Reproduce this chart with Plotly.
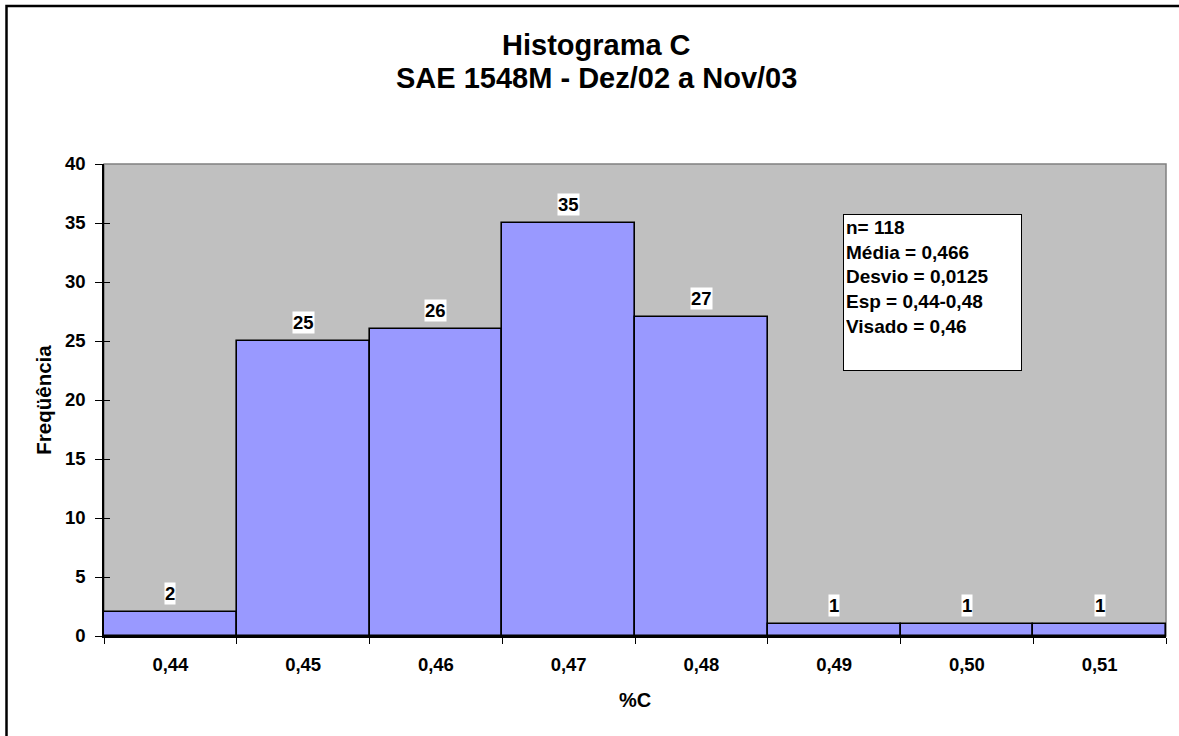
import plotly.graph_objects as go

# Carbon content classes (%C) and their frequencies
classes = ["0,44", "0,45", "0,46", "0,47", "0,48", "0,49", "0,50", "0,51"]
frequencies = [2, 25, 26, 35, 27, 1, 1, 1]
y_ticks = [0, 5, 10, 15, 20, 25, 30, 35, 40]
stats_lines = ["n= 118", "Média = 0,466", "Desvio = 0,0125", "Esp = 0,44-0,48", "Visado = 0,46"]

FONT = "Arial, Liberation Sans, sans-serif"
W, H = 1179, 736
L, R, T, B = 104, 13, 164, 100
PW, PH = W - L - R, H - T - B

fig = go.Figure()
fig.add_trace(go.Bar(
    x=classes, y=frequencies,
    marker=dict(color="#9999FF", line=dict(color="black", width=1.6)),
    hoverinfo="x+y",
))

# value labels above each bar with white boxes
for c, f in zip(classes, frequencies):
    fig.add_annotation(
        x=c, y=f, xref="x", yref="y", text=f"<b>{f}</b>",
        showarrow=False, yanchor="bottom", yshift=7,
        bgcolor="white", borderpad=0,
        font=dict(family=FONT, size=18.5, color="black"),
    )

# statistics box
fig.add_annotation(
    xref="paper", yref="paper",
    x=(843 - L) / PW, y=(636 - 214) / PH,
    xanchor="left", yanchor="top",
    text="<b>" + "<br>".join(stats_lines) + "</b>",
    showarrow=False, align="left", valign="top",
    width=173, height=151, borderpad=2,
    bgcolor="white", bordercolor="black", borderwidth=1,
    font=dict(family=FONT, size=19, color="black"),
)

# chart title, two lines, centred on the chart area
title_x = (596 - L) / PW
fig.add_annotation(
    xref="paper", yref="paper", x=title_x, y=(636 - 45) / PH,
    text="<b>Histograma C</b>", showarrow=False, yanchor="middle",
    font=dict(family=FONT, size=29, color="black"),
)
fig.add_annotation(
    xref="paper", yref="paper", x=title_x, y=(636 - 78) / PH,
    text="<b>SAE 1548M - Dez/02 a Nov/03</b>", showarrow=False, yanchor="middle",
    font=dict(family=FONT, size=29, color="black"),
)

# gray plot-area frame (top/right), drawn beneath axis lines
fig.add_shape(type="rect", xref="paper", yref="paper", x0=0, x1=1, y0=0, y1=1,
              line=dict(color="#808080", width=1.5), layer="below")
# outer chart frame
fig.add_shape(type="rect", xref="paper", yref="paper",
              x0=(6.5 - L) / PW, x1=(W + 20 - L) / PW,
              y0=-(H + 20 - 636) / PH, y1=(636 - 6) / PH,
              line=dict(color="black", width=2.5))

fig.update_layout(
    width=W, height=H,
    margin=dict(l=L, r=R, t=T, b=B),
    plot_bgcolor="#C0C0C0", paper_bgcolor="white",
    bargap=0, showlegend=False,
    font=dict(family=FONT, size=18, color="black"),
    xaxis=dict(
        type="category", range=[-0.5, 7.5],
        tickson="boundaries", ticks="outside", ticklen=6, tickcolor="black",
        showline=True, linecolor="black", linewidth=2,
        showgrid=False, zeroline=False,
        tickfont=dict(family=FONT, size=18.5, color="black"),
        ticklabelstandoff=11,
        tickvals=classes, ticktext=[f"<b>{c}</b>" for c in classes],
        title=dict(text="<b>%C</b>", font=dict(family=FONT, size=20), standoff=19),
    ),
    yaxis=dict(
        range=[0, 40], tickvals=y_ticks, ticktext=[f"<b>{v}</b>" for v in y_ticks],
        ticks="outside", ticklen=7, tickcolor="black",
        showline=True, linecolor="black", linewidth=1.5,
        showgrid=False, zeroline=False,
        tickfont=dict(family=FONT, size=18.5, color="black"),
        ticklabelstandoff=6,
        title=dict(text="<b>Freqüência</b>", font=dict(family=FONT, size=20.5), standoff=8),
    ),
    yaxis2=dict(
        overlaying="y", range=[0, 40], tickvals=y_ticks, showticklabels=False,
        ticks="inside", ticklen=6, tickcolor="black", showgrid=False,
        zeroline=False, showline=False, side="left",
    ),
)
# invisible trace so the inner tick marks axis is drawn
fig.add_trace(go.Scatter(x=[classes[0]], y=[0], yaxis="y2", mode="markers",
                         marker=dict(opacity=0), hoverinfo="skip"))

fig.write_html("out.html")
